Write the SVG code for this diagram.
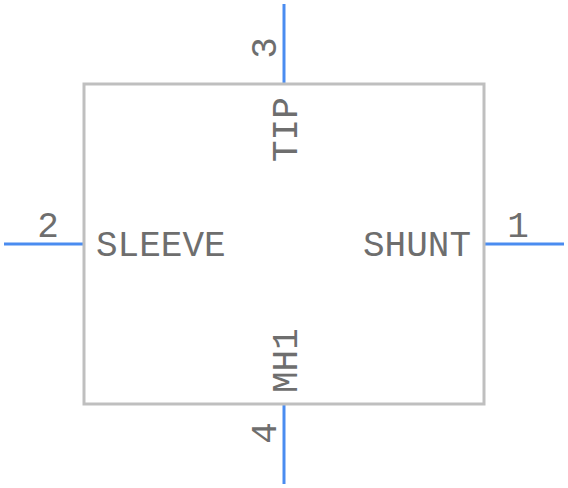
<svg xmlns="http://www.w3.org/2000/svg" width="568" height="488" viewBox="0 0 568 488">
<style>
.pin{stroke:#4a8cf0;stroke-width:3;fill:none}
.body{stroke:#bfbfbf;stroke-width:3;fill:#ffffff}
.t{font-family:"Courier New","Liberation Mono",monospace;font-size:36px;fill:#6e6e6e}
</style>
<g id="connectors">
<line class="pin" x1="284" y1="4" x2="284" y2="84"/>
<line class="pin" x1="284" y1="404" x2="284" y2="484"/>
<line class="pin" x1="4" y1="244" x2="84" y2="244"/>
<line class="pin" x1="484" y1="244" x2="564" y2="244"/>
</g>
<g id="body">
<rect class="body" x="84" y="84" width="400" height="320"/>
</g>
<g id="labels">
<text class="t" x="96" y="256">SLEEVE</text>
<text class="t" x="471" y="256" text-anchor="end">SHUNT</text>
<text class="t" transform="translate(297,162) rotate(-90)">TIP</text>
<text class="t" transform="translate(297,393) rotate(-90)">MH1</text>
</g>
<g id="pin-numbers">
<text class="t" x="48" y="237" text-anchor="middle">2</text>
<text class="t" x="518" y="237" text-anchor="middle">1</text>
<text class="t" transform="translate(276,48) rotate(-90)" text-anchor="middle">3</text>
<text class="t" transform="translate(276,433) rotate(-90)" text-anchor="middle">4</text>
</g>
</svg>
